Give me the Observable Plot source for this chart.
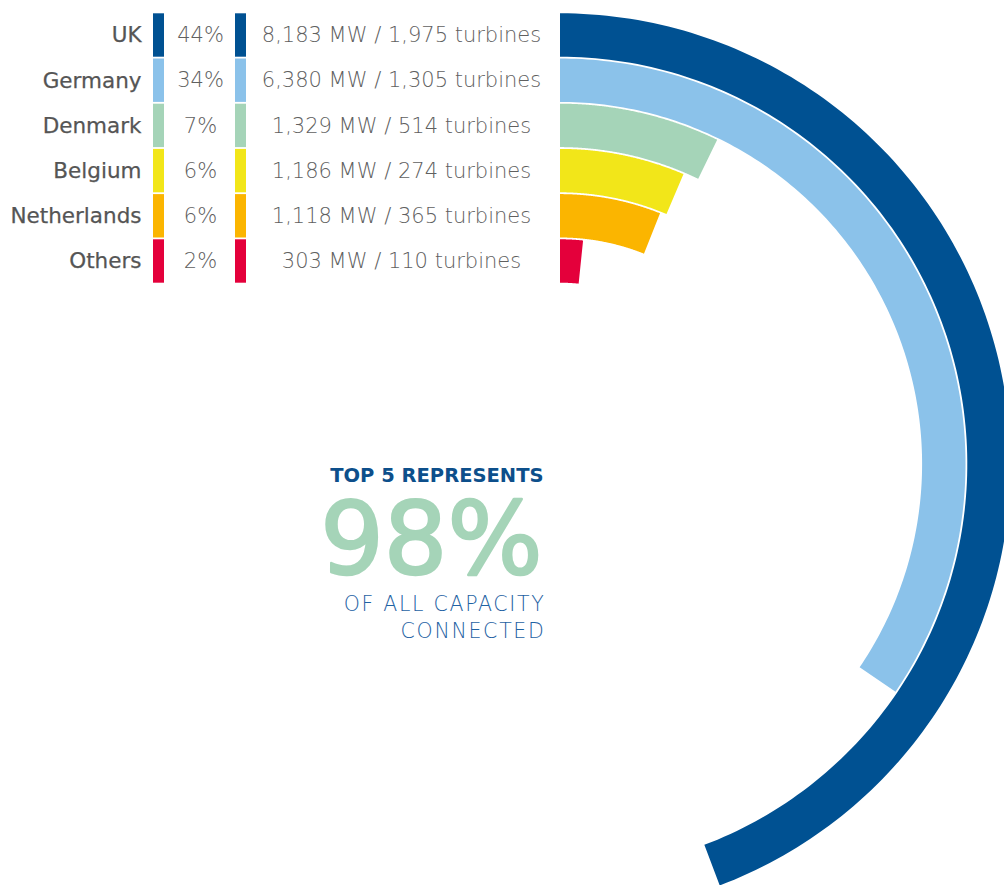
<!DOCTYPE html>
<html>
<head>
<meta charset="utf-8">
<script src="https://cdn.jsdelivr.net/npm/d3@7"></script>
<script src="https://cdn.jsdelivr.net/npm/@observablehq/plot@0.6"></script>
<style>
  html, body { margin: 0; padding: 0; background: #fff; }
  #chart { width: 1004px; height: 885px; overflow: hidden; }
  .foot text { letter-spacing: 1.7px; }
</style>
</head>
<body>
<div id="chart"></div>
<script>
// ---- data ----
const countries = ["UK", "Germany", "Denmark", "Belgium", "Netherlands", "Others"];
const capacityMW = [8183, 6380, 1329, 1186, 1118, 303];
const turbines = [1975, 1305, 514, 274, 365, 110];
const shareLabels = ["44%", "34%", "7%", "6%", "6%", "2%"];
const colors = ["#005192", "#8bc2ea", "#a5d4b8", "#f2e619", "#fbb500", "#e4003b"];
const headline = "TOP 5 REPRESENTS";
const bigValue = "98%";
const footLines = ["OF ALL CAPACITY", "CONNECTED"];

// ---- layout (pixel-like units, centre of the rings at 0,0) ----
const W = 1004, H = 885;
const cx = 560, cy = 464;
const outer0 = 450.7, step = 45.2, bandW = 43.4;
const total = d3.sum(capacityMW);
const fmt = d3.format(",");

const rows = countries.map((c, i) => ({
  country: c,
  mw: capacityMW[i],
  turbines: turbines[i],
  share: shareLabels[i],
  rOuter: outer0 - i * step,
  rInner: outer0 - i * step - bandW,
  rMid: outer0 - i * step - bandW / 2,
  label: `${fmt(capacityMW[i])} MW / ${fmt(turbines[i])} turbines`
}));

// arc bands sampled along the angle (angle = share of total capacity)
const arcPts = [];
for (const r of rows) {
  const end = (r.mw / total) * 2 * Math.PI;
  const n = 160;
  for (let k = 0; k <= n; k++) {
    const t = (end * k) / n;
    arcPts.push({
      country: r.country,
      xo: r.rOuter * Math.sin(t), yo: r.rOuter * Math.cos(t),
      xi: r.rInner * Math.sin(t), yi: r.rInner * Math.cos(t)
    });
  }
}

const font = "DejaVu Sans";
const chart = Plot.plot({
  width: W,
  height: H,
  margin: 0,
  x: { domain: [-cx, W - cx], axis: null },
  y: { domain: [cy - H, cy], axis: null },
  color: { domain: countries, range: colors },
  style: { background: "#fff" },
  marks: [
    Plot.area(arcPts, { x1: "xo", y1: "yo", x2: "xi", y2: "yi", fill: "country", z: "country" }),
    // small colour keys
    Plot.rect(rows, { x1: 153 - cx, x2: 164 - cx, y1: "rOuter", y2: "rInner", fill: "country" }),
    Plot.rect(rows, { x1: 235 - cx, x2: 246 - cx, y1: "rOuter", y2: "rInner", fill: "country" }),
    // labels
    Plot.text(rows, { x: 141 - cx, y: "rMid", text: "country", textAnchor: "end",
      fontFamily: font, fontSize: 21.5, fill: "#555", stroke: "#555", strokeWidth: 0.25 }),
    Plot.text(rows, { x: 200 - cx, y: "rMid", text: "share", textAnchor: "middle",
      fontFamily: font, fontSize: 21, fill: "#606060", fontWeight: 300 }),
    Plot.text(rows, { x: 401 - cx, y: "rMid", text: "label", textAnchor: "middle",
      fontFamily: font, fontSize: 21, fill: "#606060", fontWeight: 300 }),
    // centre annotation
    Plot.text([headline], { x: 543 - cx, y: cy - 475.5, text: d => d, textAnchor: "end",
      fontFamily: font, fontSize: 19.5, fontWeight: "bold", fill: "#0d4f8b" }),
    Plot.text([bigValue], { x: 542 - cx, y: cy - 541, text: d => d, textAnchor: "end",
      fontFamily: font, fontSize: 100, fill: "#a5d4b8", stroke: "#a5d4b8", strokeWidth: 2.5 }),
    Plot.text(footLines, { x: 545 - cx, y: (d, i) => cy - (604 + i * 26.7), text: d => d, textAnchor: "end",
      fontFamily: font, fontSize: 20.5, fill: "#1f62a3", fontWeight: 300, className: "foot" })
  ]
});
document.getElementById("chart").appendChild(chart);
</script>
</body>
</html>
